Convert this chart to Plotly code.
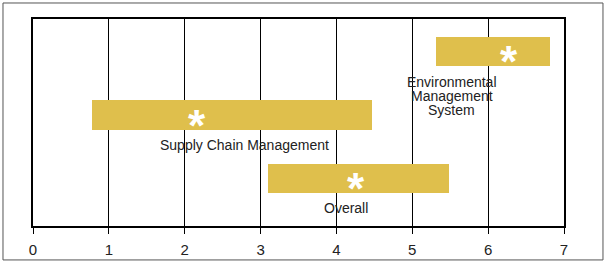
import plotly.graph_objects as go

categories = ["Environmental<br>Management<br>System", "Supply Chain Management", "Overall"]
row = [3, 2, 1]
start = [5.31, 0.78, 3.10]
end = [6.82, 4.47, 5.48]
star = [6.28, 2.16, 4.26]
label_x = [5.52, 2.79, 4.13]
label_y = [2.30, 1.535, 0.535]
tick_vals = [0, 1, 2, 3, 4, 5, 6, 7]

GOLD = "#DFBF4C"
FONT = "Liberation Sans, Arial, sans-serif"

fig = go.Figure()
fig.add_trace(go.Bar(
    orientation="h",
    y=row,
    x=[e - s for s, e in zip(start, end)],
    base=start,
    width=0.47,
    marker=dict(color=GOLD, line=dict(width=0)),
    hoverinfo="skip",
))

for sx, r in zip(star, row):
    fig.add_annotation(x=sx, y=r, text="<b>*</b>", showarrow=False,
                       font=dict(family=FONT, size=44, color="white"),
                       yshift=-10, xref="x", yref="y")

LINE_H = 14
for t, lx, ly in zip(categories, label_x, label_y):
    lines = t.split("<br>")
    n = len(lines)
    for i, ln in enumerate(lines):
        fig.add_annotation(x=lx, y=ly, text=ln, showarrow=False,
                           font=dict(family=FONT, size=14, color="#222"),
                           yshift=-(i - (n - 1) / 2) * LINE_H,
                           xref="x", yref="y")

fig.update_xaxes(
    range=[0, 7], tickvals=tick_vals, showgrid=True, gridcolor="black", gridwidth=1,
    zeroline=False, showline=True, linecolor="black", linewidth=2, mirror=True,
    ticks="outside", ticklen=6, tickcolor="black", tickwidth=1,
    tickfont=dict(family=FONT, size=15, color="#222"),
    ticklabelstandoff=3, automargin=False,
)
fig.update_yaxes(
    range=[0.252, 3.512], showgrid=False, zeroline=False, showticklabels=False,
    showline=True, linecolor="black", linewidth=2, mirror=True, ticks="",
    automargin=False,
)

# outer border of the figure
fig.add_shape(type="rect", xref="paper", yref="paper",
              x0=-0.0565, x1=1.0734, y0=-0.164, y1=1.0773,
              line=dict(color="#555", width=1), layer="below")

fig.update_layout(
    width=607, height=264,
    margin=dict(l=33, r=43, t=19, b=38, autoexpand=False),
    paper_bgcolor="white", plot_bgcolor="white",
    showlegend=False, bargap=0,
)

fig.write_html("out.html")
